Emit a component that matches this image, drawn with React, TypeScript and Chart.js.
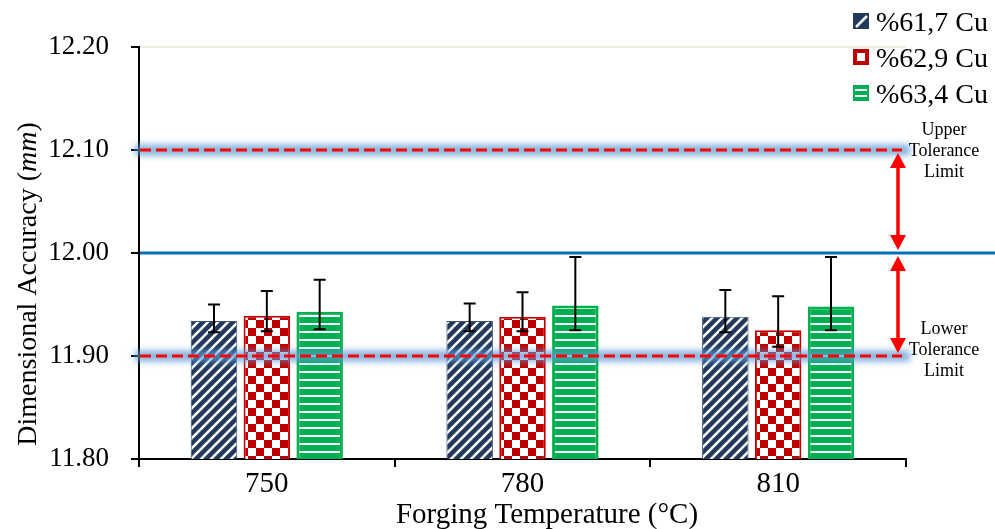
import React, { useEffect, useRef } from "react";
import { Chart, registerables } from "chart.js";

Chart.register(...registerables);

const categories = ["750", "780", "810"];
const seriesNames = ["%61,7 Cu", "%62,9 Cu", "%63,4 Cu"];
const s1Values = [11.934, 11.934, 11.938];
const s2Values = [11.939, 11.938, 11.925];
const s3Values = [11.943, 11.949, 11.948];
const s1Upper = [11.95, 11.951, 11.964];
const s1Lower = [11.923, 11.924, 11.923];
const s2Upper = [11.963, 11.962, 11.958];
const s2Lower = [11.924, 11.924, 11.909];
const s3Upper = [11.974, 11.996, 11.996];
const s3Lower = [11.926, 11.925, 11.925];
const yTickValues = [11.8, 11.9, 12.0, 12.1, 12.2];
const upperTol = 12.1;
const nominal = 12.0;
const lowerTol = 11.9;
const xTitle = "Forging Temperature (°C)";
const yTitleParts: [string, boolean][] = [
  ["Dimensional Accuracy (", false],
  ["mm", true],
  [")", false],
];
const upperLabel = ["Upper", "Tolerance", "Limit"];
const lowerLabel = ["Lower", "Tolerance", "Limit"];

const FONT = "'Liberation Serif', 'Times New Roman', serif";
const NAVY = "#22395C";
const RED = "#C00000";
const GREEN = "#00B050";

function makeStripe(): CanvasPattern | string {
  const n = 10;
  const c = document.createElement("canvas");
  c.width = n;
  c.height = n;
  const g = c.getContext("2d")!;
  g.fillStyle = NAVY;
  g.fillRect(0, 0, n, n);
  g.strokeStyle = "#fff";
  g.lineWidth = 2.6;
  g.beginPath();
  g.moveTo(0, n);
  g.lineTo(n, 0);
  g.moveTo(-3, 3);
  g.lineTo(3, -3);
  g.moveTo(n - 3, n + 3);
  g.lineTo(n + 3, n - 3);
  g.stroke();
  return g.createPattern(c, "repeat") || NAVY;
}
function makeChecker(): CanvasPattern | string {
  const c = document.createElement("canvas");
  c.width = 16;
  c.height = 16;
  const g = c.getContext("2d")!;
  g.fillStyle = "#fff";
  g.fillRect(0, 0, 16, 16);
  g.fillStyle = RED;
  g.fillRect(0, 0, 8, 8);
  g.fillRect(8, 8, 8, 8);
  return g.createPattern(c, "repeat") || RED;
}
function makeHLines(): CanvasPattern | string {
  const c = document.createElement("canvas");
  c.width = 8;
  c.height = 8;
  const g = c.getContext("2d")!;
  g.fillStyle = GREEN;
  g.fillRect(0, 0, 8, 8);
  g.fillStyle = "#fff";
  g.fillRect(0, 3, 8, 2);
  return g.createPattern(c, "repeat") || GREEN;
}

export default function App() {
  const ref = useRef<HTMLCanvasElement>(null);
  useEffect(() => {
    if (!ref.current) return;
    const uppers = [s1Upper, s2Upper, s3Upper];
    const lowers = [s1Lower, s2Lower, s3Lower];

    const overlay = {
      id: "overlay",
      afterDatasetsDraw(chart: any) {
        const ctx = chart.ctx as CanvasRenderingContext2D;
        const ca = chart.chartArea;
        const y = chart.scales.y;
        ctx.save();
        // faint top line
        ctx.strokeStyle = "#EEEBE0";
        ctx.lineWidth = 2;
        ctx.beginPath();
        ctx.moveTo(ca.left + 1, y.getPixelForValue(12.2));
        ctx.lineTo(ca.right, y.getPixelForValue(12.2));
        ctx.stroke();

        // glow + red dashed tolerance lines
        [upperTol, lowerTol].forEach((v) => {
          const py = y.getPixelForValue(v);
          ctx.save();
          ctx.filter = "blur(3px)";
          ctx.strokeStyle = "rgba(91,155,213,0.75)";
          ctx.lineWidth = 11;
          ctx.beginPath();
          ctx.moveTo(ca.left - 4, py);
          ctx.lineTo(ca.right + 4, py);
          ctx.stroke();
          ctx.restore();
          ctx.save();
          ctx.strokeStyle = "#FF0000";
          ctx.lineWidth = 3;
          ctx.setLineDash([11, 5]);
          ctx.beginPath();
          ctx.moveTo(ca.left + 1, py);
          ctx.lineTo(ca.right - 4, py);
          ctx.stroke();
          ctx.restore();
        });

        // nominal blue line
        const pn = y.getPixelForValue(nominal);
        ctx.strokeStyle = "#0070C0";
        ctx.lineWidth = 3;
        ctx.beginPath();
        ctx.moveTo(ca.left + 1, pn);
        ctx.lineTo(chart.width, pn);
        ctx.stroke();

        // error bars
        ctx.strokeStyle = "#000";
        ctx.lineWidth = 2;
        for (let d = 0; d < 3; d++) {
          const meta = chart.getDatasetMeta(d);
          meta.data.forEach((bar: any, i: number) => {
            const x = bar.x;
            const yt = y.getPixelForValue(uppers[d][i]);
            const yb = y.getPixelForValue(lowers[d][i]);
            ctx.beginPath();
            ctx.moveTo(x, yt);
            ctx.lineTo(x, yb);
            ctx.moveTo(x - 6, yt);
            ctx.lineTo(x + 6, yt);
            ctx.moveTo(x - 6, yb);
            ctx.lineTo(x + 6, yb);
            ctx.stroke();
          });
        }

        // double arrows
        const ax = ca.right - 8;
        const drawArrow = (y1: number, y2: number) => {
          const hl = 15,
            hw = 8;
          ctx.fillStyle = "#FF0000";
          ctx.strokeStyle = "#FF0000";
          ctx.lineWidth = 3.5;
          ctx.beginPath();
          ctx.moveTo(ax, y1 + hl - 2);
          ctx.lineTo(ax, y2 - hl + 2);
          ctx.stroke();
          ctx.beginPath();
          ctx.moveTo(ax, y1);
          ctx.lineTo(ax - hw, y1 + hl);
          ctx.lineTo(ax + hw, y1 + hl);
          ctx.closePath();
          ctx.fill();
          ctx.beginPath();
          ctx.moveTo(ax, y2);
          ctx.lineTo(ax - hw, y2 - hl);
          ctx.lineTo(ax + hw, y2 - hl);
          ctx.closePath();
          ctx.fill();
        };
        const pu = y.getPixelForValue(upperTol);
        const pl = y.getPixelForValue(lowerTol);
        drawArrow(pu + 3, pn - 3);
        drawArrow(pn + 3, pl - 3);

        // tolerance labels
        ctx.fillStyle = "#000";
        ctx.font = `18px ${FONT}`;
        ctx.textAlign = "center";
        ctx.textBaseline = "middle";
        upperLabel.forEach((t, i) => ctx.fillText(t, 944, pu - 20 + i * 21));
        lowerLabel.forEach((t, i) => ctx.fillText(t, 944, pl - 27 + i * 21));

        // legend
        const rows = [21, 57, 93];
        rows.forEach((ry, i) => {
          const lx = 853,
            ly = ry - 8,
            s = 16;
          if (i === 0) {
            ctx.fillStyle = NAVY;
            ctx.fillRect(lx, ly, s, s);
            ctx.strokeStyle = "#fff";
            ctx.lineWidth = 2.5;
            ctx.beginPath();
            ctx.moveTo(lx + 3, ly + s - 2);
            ctx.lineTo(lx + s - 2, ly + 3);
            ctx.stroke();
          } else if (i === 1) {
            ctx.fillStyle = RED;
            ctx.fillRect(lx, ly, s, s);
            ctx.fillStyle = "#fff";
            ctx.fillRect(lx + 4, ly + 4, s - 8, s - 8);
          } else {
            ctx.fillStyle = GREEN;
            ctx.fillRect(lx, ly, s, s);
            ctx.fillStyle = "#fff";
            ctx.fillRect(lx + 2, ly + 4, s - 4, 2);
            ctx.fillRect(lx + 2, ly + 10, s - 4, 2);
          }
          ctx.fillStyle = "#000";
          ctx.font = `28px ${FONT}`;
          ctx.textAlign = "left";
          ctx.textBaseline = "alphabetic";
          ctx.fillText(seriesNames[i], 876, ry + 10);
        });

        // x title
        ctx.font = `29px ${FONT}`;
        ctx.textAlign = "center";
        ctx.textBaseline = "alphabetic";
        ctx.fillText(xTitle, 547, 523);

        // y title (mixed italic)
        ctx.save();
        ctx.translate(36, 284);
        ctx.rotate(-Math.PI / 2);
        ctx.textAlign = "left";
        ctx.textBaseline = "alphabetic";
        let total = 0;
        const widths = yTitleParts.map(([t, it]) => {
          ctx.font = `${it ? "italic " : ""}28px ${FONT}`;
          const w = ctx.measureText(t).width;
          total += w;
          return w;
        });
        let cx = -total / 2;
        yTitleParts.forEach(([t, it], i) => {
          ctx.font = `${it ? "italic " : ""}28px ${FONT}`;
          ctx.fillText(t, cx, 0);
          cx += widths[i];
        });
        ctx.restore();
        ctx.restore();
      },
    };

    const chart = new Chart(ref.current, {
      type: "bar",
      data: {
        labels: categories,
        datasets: [
          {
            label: seriesNames[0],
            data: s1Values,
            backgroundColor: makeStripe() as any,
            borderColor: "#3B5276",
            borderWidth: 1,
          },
          {
            label: seriesNames[1],
            data: s2Values,
            backgroundColor: makeChecker() as any,
            borderColor: RED,
            borderWidth: 2,
          },
          {
            label: seriesNames[2],
            data: s3Values,
            backgroundColor: makeHLines() as any,
            borderColor: GREEN,
            borderWidth: 3,
          },
        ],
      },
      options: {
        animation: false,
        responsive: false,
        maintainAspectRatio: false,
        layout: { padding: { top: 47, right: 89, left: 0, bottom: 0 } },
        datasets: {
          bar: { categoryPercentage: 0.62, barPercentage: 0.88 },
        } as any,
        plugins: {
          legend: { display: false },
          tooltip: { enabled: false },
        },
        scales: {
          x: {
            offset: true,
            grid: {
              display: true,
              drawOnChartArea: false,
              drawTicks: true,
              tickLength: 8,
              color: "#000",
              lineWidth: 2,
              offset: true,
            },
            border: { display: true, color: "#000", width: 2 },
            ticks: {
              font: { family: FONT, size: 29 },
              color: "#000",
              padding: 0,
            },
            afterFit: (s: any) => {
              s.height = 70;
            },
          },
          y: {
            min: yTickValues[0],
            max: yTickValues[yTickValues.length - 1],
            afterBuildTicks: (s: any) => {
              s.ticks = yTickValues.map((v) => ({ value: v }));
            },
            ticks: {
              callback: (v: any) => Number(v).toFixed(2),
              font: { family: FONT, size: 27 },
              color: "#000",
              padding: 22,
            },
            grid: {
              drawOnChartArea: false,
              drawTicks: true,
              tickLength: 8,
              color: "#000",
              lineWidth: 2,
            },
            border: { display: true, color: "#000", width: 2 },
            afterFit: (s: any) => {
              s.width = 139;
            },
          },
        },
      },
      plugins: [overlay],
    });
    return () => chart.destroy();
  }, []);
  return (
    <div style={{ position: "fixed", left: 0, top: 0, width: 995, height: 529, background: "#fff" }}>
      <canvas ref={ref} width={995} height={529} style={{ display: "block" }} />
    </div>
  );
}
